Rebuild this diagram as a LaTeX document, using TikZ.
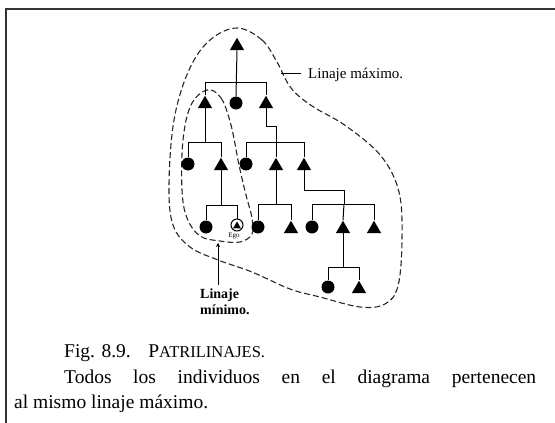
\documentclass[tikz,border=0pt]{standalone}
\usepackage{fontspec}
\setmainfont{Liberation Serif}
\usetikzlibrary{shapes.geometric,arrows.meta}
\begin{document}
\begin{tikzpicture}[x=1pt,y=-1pt,
  tri/.style={regular polygon,regular polygon sides=3,minimum size=16.5pt,inner sep=0pt,fill=black,draw=none},
  fem/.style={circle,minimum size=13pt,inner sep=0pt,fill=black,draw=none},
  line/.style={line width=1pt,black},
  lineage/.style={line width=1.1pt,dash pattern=on 6pt off 3pt,black!85},
  frame/.style={line width=1.6pt,black!80},
  captxt/.style={anchor=base west,font=\fontsize{19.5}{19.5}\selectfont,inner sep=0pt}]
\useasboundingbox (0,0) rectangle (555,423);
\draw[frame] (6,423) -- (6,9) -- (555,9);
% dashed lineage outlines
\draw[lineage] plot[smooth cycle,tension=0.6] coordinates {
 (237,28) (262,40) (277,62) (291,88) (312,106) (346,126) (381,156) (399,192)
 (402,240) (398,286) (385,304) (360,307) (320,297) (290,289) (252,272)
 (218,260) (190,247) (173,225) (169,185) (174,120) (189,70) (210,40)};
\draw[lineage] plot[smooth cycle,tension=0.6] coordinates {
 (207,90) (221,98) (231,125) (239,165) (246,195) (252,218) (252,234)
 (240,242) (220,241) (200,236) (187,218) (182,190) (183,140) (191,105)};
% generation 1
\node[tri] (t0) at (237,46) {};
% generation 2
\node[tri] (t1) at (205,104) {};
\node[fem] (c1) at (236,103) {};
\node[tri] (t2) at (266,104) {};
% generation 3
\node[fem] (c2) at (188,164) {};
\node[tri] (t3) at (221,166) {};
\node[fem] (c3) at (246,164) {};
\node[tri] (t4) at (276,166) {};
\node[tri] (t5) at (304,166) {};
% generation 4
\node[fem] (c4) at (206,227) {};
\node[circle,draw,line width=1pt,minimum size=12pt,inner sep=0pt] (ego) at (237,225) {};
\node[regular polygon,regular polygon sides=3,minimum size=9pt,inner sep=0pt,fill=black] (egot) at (237,226) {};
\node[font=\fontsize{7}{7}\selectfont,inner sep=0pt] (egol) at (234,236) {Ego};
\node[fem] (c5) at (258,227) {};
\node[tri] (t6) at (291,229) {};
\node[fem] (c6) at (312,227) {};
\node[tri] (t7) at (343,229) {};
\node[tri] (t8) at (374,229) {};
% generation 5
\node[fem] (c7) at (328,287) {};
\node[tri] (t9) at (359,289) {};
% descent lines
\draw[line] (t0.south) -- (c1.north);
\draw[line] (t1.north) |- (t2.north |- 0,82) -- (t2.north);
\draw[line] (t1.south) -- (t1.south |- 0,142);
\draw[line] (c2.north) |- (t3.north |- 0,142) -- (t3.north);
\draw[line] (t2.south) |- (276,126) -- (276,142);
\draw[line] (c3.north) |- (t5.north |- 0,142) -- (t5.north);
\draw[line] (276,142) -- (t4.north);
\draw[line] (t3.south) -- (t3.south |- 0,205);
\draw[line] (c4.north) |- (ego.north |- 0,205) -- (ego.north);
\draw[line] (t4.south) -- (t4.south |- 0,204);
\draw[line] (c5.north) |- (t6.north |- 0,204) -- (t6.north);
\draw[line] (t5.south) |- (344,190) -- (344,204);
\draw[line] (c6.north) |- (t8.north |- 0,204) -- (t8.north);
\draw[line] (344,204) -- (t7.north);
\draw[line] (t7.south) -- (t7.south |- 0,267);
\draw[line] (c7.north) |- (t9.north |- 0,267) -- (t9.north);
% labels
\coordinate (maxa) at (281,73);
\node[anchor=base west,font=\fontsize{15}{15}\selectfont,inner sep=0pt] (maxl) at (308,78) {Linaje máximo.};
\draw[line] (maxa) -- (301,73);
\node[anchor=north west,align=left,font=\fontsize{14}{16}\selectfont\bfseries,inner sep=0pt] (minl) at (200,289) {Linaje\\mínimo.};
\coordinate (mina) at (218,243);
\draw[line,-{Stealth[length=4pt,width=4pt]}] (218,285) -- (mina);
% caption
\node[captxt] (cap1) at (64,357)
  {Fig. 8.9.\hspace{0.9em}P{\fontsize{16.5}{16.5}\selectfont ATRILINAJES.}};
\node[captxt] (cap2) at (64,383)
  {\makebox[472pt][s]{Todos los individuos en el diagrama pertenecen}};
\node[captxt] (cap3) at (14,408)
  {al mismo linaje máximo.};
\end{tikzpicture}
\end{document}
